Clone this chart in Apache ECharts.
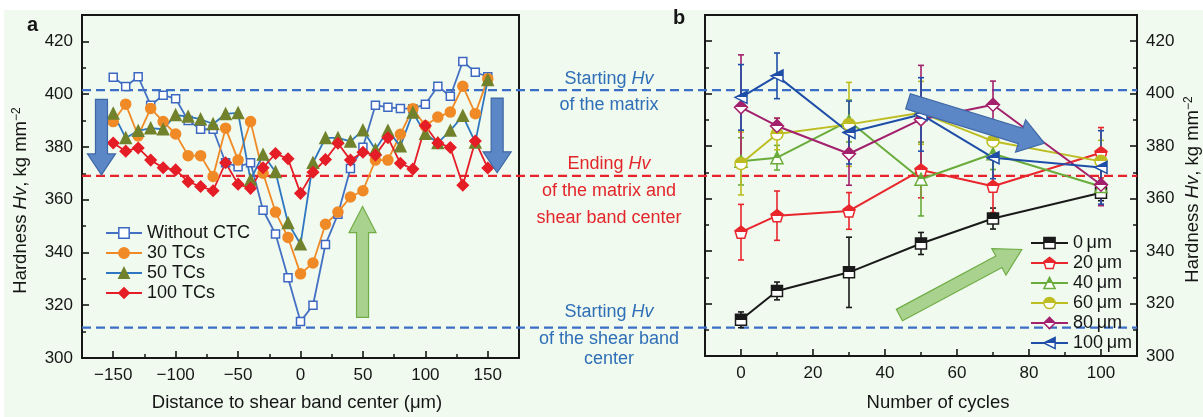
<!DOCTYPE html>
<html>
<head>
<meta charset="utf-8">
<script src="https://cdn.jsdelivr.net/npm/echarts@6/dist/echarts.min.js"></script>
<style>
  html, body { margin: 0; padding: 0; background: #f0faef; }
  #chart { width: 1203px; height: 417px; }
</style>
</head>
<body>
<div id="chart"></div>
<script>
// ---- Panel a: hardness profiles across the shear band ----
const distance = [-150, -140, -130, -120, -110, -100, -90, -80, -70, -60, -50, -40, -30, -20, -10,
  0, 10, 20, 30, 40, 50, 60, 70, 80, 90, 100, 110, 120, 130, 140, 150];
const hvWithoutCTC = [406.4, 402.9, 406.6, 395.8, 399.6, 398.3, 390.0, 386.7, 386.7, 374.0, 372.5, 374.0, 356.0, 347.0, 330.4,
  313.8, 320.0, 343.0, 354.5, 371.8, 379.9, 395.8, 395.0, 394.6, 394.5, 396.2, 403.0, 399.2, 412.4, 408.3, 406.6];
const hv30TCs = [389.6, 396.2, 384.2, 394.6, 389.6, 384.9, 376.7, 376.7, 368.8, 387.1, 375.0, 389.6, 370.0, 355.3, 345.7,
  331.9, 336.0, 350.7, 355.3, 361.0, 363.4, 375.0, 375.0, 384.8, 394.5, 388.0, 391.3, 393.2, 403.0, 392.6, 405.8];
const hv50TCs = [392.7, 383.4, 386.1, 387.1, 386.7, 392.1, 391.5, 390.5, 388.7, 392.5, 392.9, 367.5, 377.1, 370.5, 351.2,
  343.1, 374.0, 383.4, 383.4, 382.1, 386.3, 379.0, 386.2, 380.3, 393.0, 385.0, 381.5, 386.2, 391.8, 381.7, 405.4];
const hv100TCs = [381.5, 378.4, 379.6, 375.0, 372.1, 371.3, 366.8, 365.0, 363.4, 374.0, 365.9, 364.3, 372.1, 377.5, 375.5,
  362.4, 370.4, 375.2, 381.4, 375.0, 378.0, 376.9, 383.5, 373.8, 371.6, 388.0, 381.5, 379.8, 365.5, 382.2, 372.0];
const distanceTicks = [-150, -100, -50, 0, 50, 100, 150];
const distanceMinorTicks = [-125, -75, -25, 25, 75, 125];

// ---- Panel b: hardness versus number of cycles at several distances ----
const cycles = [0, 10, 30, 50, 70, 100];
const hv0um   = [313.8, 324.8, 331.9, 342.9, 352.4, 362.2];
const err0um  = [3.0, 3.4, 13.4, 4.2, 4.0, 3.0];
const hv20um  = [347.2, 353.5, 355.3, 370.9, 364.7, 377.5];
const err20um = [10.6, 9.4, 7.0, 10.6, 10.0, 9.6];
const hv40um  = [374.2, 375.6, 389.6, 367.4, 377.1, 364.6];
const err40um = [9.0, 4.7, 8.0, 14.0, 6.0, 7.0];
const hv60um  = [373.4, 384.6, 388.3, 392.7, 381.9, 374.2];
const err60um = [12.0, 6.0, 16.0, 12.0, 6.0, 8.0];
const hv80um  = [394.8, 387.7, 377.1, 390.2, 395.8, 365.3];
const err80um = [20.0, 3.0, 12.0, 20.6, 9.0, 8.0];
const hv100um = [398.6, 406.8, 385.2, 392.1, 375.6, 371.9];
const err100um = [12.5, 8.7, 12.0, 14.0, 8.0, 14.0];
const cycleTicks = [0, 20, 40, 60, 80, 100];
const cycleMinorTicks = [10, 30, 50, 70, 90];

// ---- Shared hardness axis and reference levels ----
const hvTicks = [300, 320, 340, 360, 380, 400, 420];
const hvMinorTicks = [310, 330, 350, 370, 390, 410];
const startMatrixHv = 401.5;
const endHv = 369.0;
const startBandHv = 311.5;

const FONT = "'Liberation Sans', Arial, Helvetica, sans-serif";
const INK = '#161616';
const TEXT_BLUE = '#2f6fb7';
const TEXT_RED = '#e3262b';

function halfFill(color) {
  return {
    type: 'linear', x: 0, y: 0, x2: 0, y2: 1,
    colorStops: [
      { offset: 0, color: color }, { offset: 0.5, color: color },
      { offset: 0.5, color: '#ffffff' }, { offset: 1, color: '#ffffff' }
    ]
  };
}

const hvTitle = '{t|Hardness }{i|Hv}{t|, kg mm}{s|\u22122}';
const hvRich = {
  t: { fontSize: 18.5, fontFamily: FONT, color: INK },
  i: { fontSize: 18.5, fontFamily: FONT, color: INK, fontStyle: 'italic' },
  s: { fontSize: 12, fontFamily: FONT, color: INK, verticalAlign: 'top', lineHeight: 12 }
};
const tickLabel = { fontSize: 17, fontFamily: FONT, color: INK };
const minusFmt = v => (v < 0 ? '\u2212' + (-v) : String(v));

function axisBase(extra) {
  return Object.assign({
    type: 'value',
    splitLine: { show: false },
    axisLine: { show: true, onZero: false, lineStyle: { color: INK, width: 2 } },
    axisPointer: { show: false }
  }, extra);
}
function minorAxis(extra, values) {
  return axisBase(Object.assign({
    axisLine: { show: false, onZero: false },
    axisLabel: { show: false },
    axisTick: { show: true, inside: true, length: 4, customValues: values, lineStyle: { color: INK, width: 1.5 } }
  }, extra));
}
function majorTick(values) {
  return { show: true, inside: true, length: 7, customValues: values, lineStyle: { color: INK, width: 1.6 } };
}

// Panel a series
function profileSeries(name, values, symbol, size, lineColor, fill, border) {
  return {
    type: 'line', name: name, xAxisIndex: 0, yAxisIndex: 0,
    data: distance.map((d, i) => [d, values[i]]),
    symbol: symbol, symbolSize: size, showSymbol: true,
    lineStyle: { color: lineColor, width: 1.8 },
    itemStyle: { color: fill, borderColor: border, borderWidth: 1.5 },
    emphasis: { disabled: true }, z: 3
  };
}
const profileStyles = [
  { name: 'Without CTC', values: hvWithoutCTC, symbol: 'rect', size: 8, line: '#4571c3', fill: '#ffffff', border: '#3d68c2' },
  { name: '30 TCs', values: hv30TCs, symbol: 'circle', size: 10, line: '#f08a26', fill: '#f08a26', border: '#f08a26' },
  { name: '50 TCs', values: hv50TCs, symbol: 'triangle', size: 11, line: '#2f76c0', fill: '#72822c', border: '#72822c' },
  { name: '100 TCs', values: hv100TCs, symbol: 'diamond', size: 11, line: '#e51d26', fill: '#e51d26', border: '#e51d26' }
];

// Panel b series
const cycleStyles = [
  { name: '0\u2009\u03bcm', values: hv0um, errs: err0um, symbol: 'rect', size: 11, color: '#1a1a1a' },
  { name: '20\u2009\u03bcm', values: hv20um, errs: err20um, symbol: 'path://M5,0L10,3.8L8.1,10L1.9,10L0,3.8Z', size: 12, color: '#e8262c' },
  { name: '40\u2009\u03bcm', values: hv40um, errs: err40um, symbol: 'triangle', size: 12, color: '#6aac3b' },
  { name: '60\u2009\u03bcm', values: hv60um, errs: err60um, symbol: 'circle', size: 12, color: '#bdbd22' },
  { name: '80\u2009\u03bcm', values: hv80um, errs: err80um, symbol: 'diamond', size: 13, color: '#a3206c' },
  { name: '100\u2009\u03bcm', values: hv100um, errs: err100um, symbol: 'path://M0,6L12,0L12,12Z', size: 12, color: '#1f4ea8' }
];

function errorBarSeries(s) {
  return {
    type: 'custom', name: s.name + ' error', xAxisIndex: 2, yAxisIndex: 2, silent: true, z: 3,
    data: cycles.map((c, i) => [c, s.values[i] - s.errs[i], s.values[i] + s.errs[i]]),
    encode: { x: 0, y: [1, 2] },
    renderItem: function (params, api) {
      const top = api.coord([api.value(0), api.value(2)]);
      const bot = api.coord([api.value(0), api.value(1)]);
      const cap = 3;
      const st = { stroke: s.color, lineWidth: 1.6 };
      return {
        type: 'group', children: [
          { type: 'line', shape: { x1: top[0], y1: top[1], x2: bot[0], y2: bot[1] }, style: st },
          { type: 'line', shape: { x1: top[0] - cap, y1: top[1], x2: top[0] + cap, y2: top[1] }, style: st },
          { type: 'line', shape: { x1: bot[0] - cap, y1: bot[1], x2: bot[0] + cap, y2: bot[1] }, style: st }
        ]
      };
    }
  };
}
function cycleSeries(s) {
  return {
    type: 'line', name: s.name, xAxisIndex: 2, yAxisIndex: 2,
    data: cycles.map((c, i) => [c, s.values[i]]),
    symbol: s.symbol, symbolSize: s.size, showSymbol: true,
    lineStyle: { color: s.color, width: 2 },
    itemStyle: { color: halfFill(s.color), borderColor: s.color, borderWidth: 1.5 },
    emphasis: { disabled: true }, z: 4
  };
}

const option = {
  animation: false,
  backgroundColor: '#f0faef',
  textStyle: { fontFamily: FONT },
  grid: [
    { left: 82, top: 15, width: 437, height: 348, show: true, borderColor: INK, borderWidth: 2, backgroundColor: 'transparent' },
    { left: 705, top: 15, width: 434, height: 348, show: true, borderColor: INK, borderWidth: 2, backgroundColor: 'transparent' }
  ],
  xAxis: [
    axisBase({
      gridIndex: 0, position: 'bottom', min: -175, max: 175,
      axisTick: majorTick(distanceTicks),
      axisLabel: Object.assign({ customValues: distanceTicks, margin: 9, formatter: minusFmt }, tickLabel),
      name: 'Distance to shear band center (\u03bcm)', nameLocation: 'middle', nameGap: 35,
      nameTextStyle: { fontSize: 18.5, fontFamily: FONT, color: INK, padding: [0, 7, 0, 0] }
    }),
    minorAxis({ gridIndex: 0, position: 'bottom', min: -175, max: 175 }, distanceMinorTicks),
    axisBase({
      gridIndex: 1, position: 'bottom', min: -10, max: 110,
      axisTick: majorTick(cycleTicks),
      axisLabel: Object.assign({ customValues: cycleTicks, margin: 9 }, tickLabel),
      name: 'Number of cycles', nameLocation: 'middle', nameGap: 37,
      nameTextStyle: { fontSize: 18.5, fontFamily: FONT, color: INK, padding: [0, 0, 0, 34] }
    }),
    minorAxis({ gridIndex: 1, position: 'bottom', min: -10, max: 110 }, cycleMinorTicks)
  ],
  yAxis: [
    axisBase({
      gridIndex: 0, position: 'left', min: 300, max: 430,
      axisTick: majorTick(hvTicks),
      axisLabel: Object.assign({ customValues: hvTicks, margin: 9 }, tickLabel),
      name: hvTitle, nameLocation: 'middle', nameRotate: 90, nameGap: 52,
      nameTextStyle: { rich: hvRich, fontSize: 18.5, padding: [0, 28, 0, 0] }
    }),
    minorAxis({ gridIndex: 0, position: 'left', min: 300, max: 430 }, hvMinorTicks),
    axisBase({
      gridIndex: 1, position: 'left', min: 300, max: 430,
      axisTick: majorTick(hvTicks), axisLabel: { show: false }
    }),
    minorAxis({ gridIndex: 1, position: 'left', min: 300, max: 430 }, hvMinorTicks),
    axisBase({
      gridIndex: 1, position: 'right', min: 300, max: 430,
      axisTick: majorTick(hvTicks),
      axisLabel: Object.assign({ customValues: hvTicks, margin: 9 }, tickLabel),
      name: hvTitle, nameLocation: 'middle', nameRotate: 90, nameGap: 46,
      nameTextStyle: { rich: hvRich, fontSize: 18.5, padding: [0, 8, 0, 0] }
    }),
    minorAxis({ gridIndex: 1, position: 'right', min: 300, max: 430 }, hvMinorTicks)
  ],
  legend: [
    {
      left: 105, top: 223, orient: 'vertical', padding: 0, itemGap: 0,
      itemWidth: 36, itemHeight: 13, selectedMode: false,
      textStyle: { fontSize: 18, lineHeight: 20, fontFamily: FONT, color: INK },
      data: profileStyles.map(p => ({
        name: p.name,
        itemStyle: { color: p.fill, borderColor: p.border, borderWidth: 1.5 },
        lineStyle: { color: p.line, width: 2 }
      }))
    },
    {
      left: 1030, top: 233, orient: 'vertical', padding: 0, itemGap: 0,
      itemWidth: 37, itemHeight: 14, selectedMode: false,
      textStyle: { fontSize: 18, lineHeight: 20, fontFamily: FONT, color: INK },
      data: cycleStyles.map(s => ({
        name: s.name,
        itemStyle: { color: halfFill(s.color), borderColor: s.color, borderWidth: 1.5 },
        lineStyle: { color: s.color, width: 2 }
      }))
    }
  ],
  series: [].concat(
    profileStyles.map(p => profileSeries(p.name, p.values, p.symbol, p.size, p.line, p.fill, p.border)),
    cycleStyles.map(errorBarSeries),
    cycleStyles.map(cycleSeries)
  )
};

const chart = echarts.init(document.getElementById('chart'), null, { renderer: 'canvas' });
chart.setOption(option);

// ---- Reference levels, annotations and trend arrows ----
const pa = (x, y) => chart.convertToPixel({ xAxisIndex: 0, yAxisIndex: 0 }, [x, y]);
const pb = (x, y) => chart.convertToPixel({ xAxisIndex: 2, yAxisIndex: 2 }, [x, y]);

const xStart = pa(-175, 300)[0];
const xEnd = pb(110, 300)[0];
const yMatrix = pa(0, startMatrixHv)[1];
const yEnd = pa(0, endHv)[1];
const yBand = pa(0, startBandHv)[1];
const gapCenter = (pa(175, 300)[0] + pb(-10, 300)[0]) / 2 - 3;

function dashed(y, color) {
  return {
    type: 'line', z: 1, silent: true,
    shape: { x1: xStart, y1: y, x2: xEnd, y2: y },
    style: { stroke: color, lineWidth: 2.2, lineDash: [9, 5] }
  };
}
function note(text, y, color) {
  return {
    type: 'text', z: 10, silent: true, x: gapCenter, y: y,
    style: {
      text: text, align: 'center', verticalAlign: 'middle', fill: color,
      fontSize: 18, fontFamily: FONT,
      rich: {
        n: { fontSize: 18, fontFamily: FONT, fill: color, color: color },
        i: { fontSize: 18, fontFamily: FONT, fill: color, color: color, fontStyle: 'italic' }
      }
    }
  };
}
function arrow(p0, p1, shaft, head, headLen, fill, stroke) {
  const dx = p1[0] - p0[0], dy = p1[1] - p0[1];
  const len = Math.hypot(dx, dy);
  const ux = dx / len, uy = dy / len, nx = -uy, ny = ux;
  const kx = p1[0] - ux * headLen, ky = p1[1] - uy * headLen;
  const s = shaft / 2, h = head / 2;
  const pts = [
    [p0[0] + nx * s, p0[1] + ny * s], [kx + nx * s, ky + ny * s], [kx + nx * h, ky + ny * h],
    [p1[0], p1[1]],
    [kx - nx * h, ky - ny * h], [kx - nx * s, ky - ny * s], [p0[0] - nx * s, p0[1] - ny * s]
  ];
  return { type: 'polygon', z: 20, silent: true, shape: { points: pts }, style: { fill: fill, stroke: stroke, lineWidth: 1.2 } };
}
const BLUE_ARROW = ['#5b87c6', '#3f67a6'];
const GREEN_ARROW = ['#a9d28e', '#70ad47'];

chart.setOption({
  graphic: [
    { type: 'rect', z: 0, silent: true, shape: { x: 0, y: 0, width: 1203, height: 10 }, style: { fill: '#ffffff' } },
    { type: 'rect', z: 0, silent: true, shape: { x: 0, y: 0, width: 4, height: 417 }, style: { fill: '#ffffff' } },
    dashed(yMatrix, '#3b6ec6'),
    dashed(yEnd, '#e8232b'),
    dashed(yBand, '#3b6ec6'),
    note('{n|Starting }{i|Hv}', yMatrix - 11, TEXT_BLUE),
    note('{n|of the matrix}', yMatrix + 15, TEXT_BLUE),
    note('{n|Ending }{i|Hv}', yEnd - 12, TEXT_RED),
    note('{n|of the matrix and}', yEnd + 15, TEXT_RED),
    note('{n|shear band center}', yEnd + 42, TEXT_RED),
    note('{n|Starting }{i|Hv}', yBand - 16, TEXT_BLUE),
    note('{n|of the shear band}', yBand + 11, TEXT_BLUE),
    note('{n|center}', yBand + 31, TEXT_BLUE),
    arrow(pa(-159.4, 398.0), pa(-159.4, 369.4), 12, 28, 21, BLUE_ARROW[0], BLUE_ARROW[1]),
    arrow(pa(157.5, 398.5), pa(157.5, 370.2), 12, 28, 21, BLUE_ARROW[0], BLUE_ARROW[1]),
    arrow(pa(49.7, 315.4), pa(49.7, 357.4), 12, 27, 26, GREEN_ARROW[0], GREEN_ARROW[1]),
    arrow(pb(46.4, 397.1), pb(84.3, 381.1), 16, 34, 25, BLUE_ARROW[0], BLUE_ARROW[1]),
    arrow(pb(44.0, 315.6), pb(78.0, 340.6), 13, 30, 26, GREEN_ARROW[0], GREEN_ARROW[1]),
    { type: 'text', z: 10, silent: true, x: 27, y: 15, style: { text: 'a', fontSize: 20, fontWeight: 'bold', fontFamily: FONT, fill: INK } },
    { type: 'text', z: 10, silent: true, x: 673, y: 8, style: { text: 'b', fontSize: 20, fontWeight: 'bold', fontFamily: FONT, fill: INK } }
  ]
});
</script>
</body>
</html>
